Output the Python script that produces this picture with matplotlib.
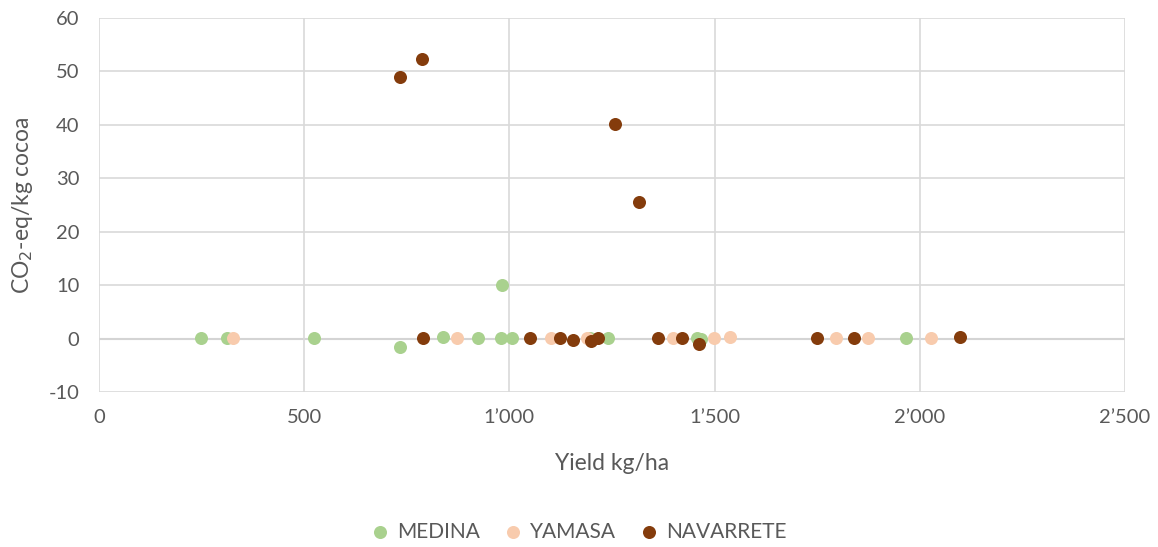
import matplotlib.pyplot as plt
from matplotlib.ticker import FuncFormatter

plt.rcParams['font.family'] = ['Lato', 'DejaVu Sans']
plt.rcParams['axes.unicode_minus'] = False

# Yield kg/ha and CO2-eq/kg cocoa for each farm group
medina_x = [248, 311, 524, 733, 839, 923, 979, 1007, 982, 1196, 1241, 1458, 1467, 1966]
medina_y = [0.2, 0.2, 0.2, -1.5, 0.3, 0.2, 0.2, 0.1, 10.0, 0.2, 0.2, 0.2, 0.0, 0.1]

yamasa_x = [327, 873, 1101, 1188, 1398, 1499, 1538, 1797, 1873, 2027]
yamasa_y = [0.2, 0.2, 0.2, 0.2, 0.2, 0.2, 0.3, 0.2, 0.2, 0.2]

navarrete_x = [733, 787, 1257, 1316, 789, 1049, 1123, 1155, 1198, 1217, 1363, 1421, 1463,
               1749, 1840, 2098]
navarrete_y = [48.9, 52.3, 40.2, 25.5, 0.1, 0.2, 0.2, -0.3, -0.4, 0.2, 0.1, 0.1, -1.0,
               0.1, 0.2, 0.3]

fig = plt.figure(figsize=(11.58, 5.47), dpi=100)
ax = fig.add_axes([99 / 1158, 1 - 392 / 547, (1125 - 99) / 1158, (392 - 18) / 547])

ms = 88
ax.scatter(medina_x, medina_y, s=ms, color='#a9d18e', label='MEDINA', zorder=3, linewidths=0)
ax.scatter(yamasa_x, yamasa_y, s=ms, color='#f8cbad', label='YAMASA', zorder=4, linewidths=0)
ax.scatter(navarrete_x, navarrete_y, s=ms, color='#843c0c', label='NAVARRETE', zorder=5,
           linewidths=0)

ax.set_xlim(0, 2500)
ax.set_ylim(-10, 60)
ax.set_xticks(range(0, 2501, 500))
ax.set_yticks(range(-10, 61, 10))
ax.xaxis.set_major_formatter(FuncFormatter(lambda v, p: f'{int(v):,}'.replace(',', '\u2019')))

ax.grid(True, color='#d9d9d9', linewidth=1.2, zorder=0)
ax.axhline(0, color='#bfbfbf', linewidth=1.5, zorder=1)
for s in ax.spines.values():
    s.set_visible(False)
ax.tick_params(length=0, labelsize=14.5, labelcolor='#595959')
ax.tick_params(axis='y', pad=14)
ax.tick_params(axis='x', pad=12)

ax.set_xlabel('Yield kg/ha', fontsize=16.5, color='#595959', labelpad=20)
ax.set_ylabel('CO$_2$-eq/kg cocoa', fontsize=16.5, color='#595959', labelpad=10)

fig.legend(loc='lower center', ncol=3, frameon=False, fontsize=15, labelcolor='#595959',
           bbox_to_anchor=(0.5, -0.025), handlelength=0.8, handletextpad=0.4,
           columnspacing=1.2, markerscale=1.0)

fig.savefig('out.png', dpi=100)
